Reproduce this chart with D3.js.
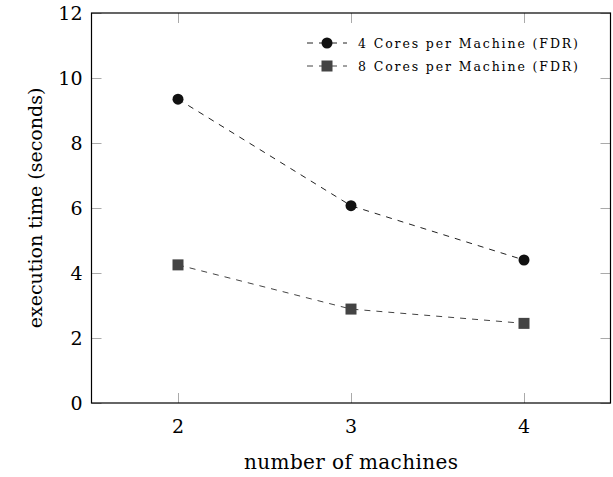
<!DOCTYPE html>
<html>
<head>
<meta charset="utf-8">
<script src="https://cdn.jsdelivr.net/npm/d3@7"></script>
<style>
  body { margin: 0; background: #fff; }
  text { font-family: "DejaVu Serif", "Liberation Serif", serif; }
</style>
</head>
<body>
<div id="chart"></div>
<script>
var machines = [2, 3, 4];
var cores4 = [9.35, 6.07, 4.4];
var cores8 = [4.25, 2.89, 2.45];
var seriesNames = ["4 Cores per Machine (FDR)", "8 Cores per Machine (FDR)"];
var xTicks = [2, 3, 4];
var yTicks = [0, 2, 4, 6, 8, 10, 12];

function init() {
    var w = 613;
    var h = 477;
    var left = 91.5, right = 610.5, top = 13, bottom = 403;

    var svg = d3.select("#chart")
        .append("svg")
        .attr("width", w)
        .attr("height", h);

    var scaleX = d3.scaleLinear().domain([1.5, 4.5]).range([left, right]);
    var scaleY = d3.scaleLinear().domain([0, 12]).range([bottom, top]);

    // inward ticks on all four sides
    var tickColor = "#aaa";
    var tl = 10;
    xTicks.forEach(function (t) {
        var x = Math.round(scaleX(t)) + 0.5;
        svg.append("line").attr("x1", x).attr("x2", x).attr("y1", bottom).attr("y2", bottom - tl).attr("stroke", tickColor);
        svg.append("line").attr("x1", x).attr("x2", x).attr("y1", top).attr("y2", top + tl).attr("stroke", tickColor);
        svg.append("text").attr("x", scaleX(t)).attr("y", bottom + 30)
            .attr("text-anchor", "middle").attr("font-size", 19).text(t);
    });
    yTicks.forEach(function (t) {
        var y = Math.round(scaleY(t)) + 0.5;
        svg.append("line").attr("x1", left).attr("x2", left + tl).attr("y1", y).attr("y2", y).attr("stroke", tickColor);
        svg.append("line").attr("x1", right).attr("x2", right - tl).attr("y1", y).attr("y2", y).attr("stroke", tickColor);
        svg.append("text").attr("x", left - 9).attr("y", scaleY(t) + 7)
            .attr("text-anchor", "end").attr("font-size", 19).text(t);
    });

    svg.append("rect")
        .attr("x", left).attr("y", top)
        .attr("width", right - left).attr("height", bottom - top)
        .attr("fill", "none").attr("stroke", "#000").attr("stroke-width", 1.2);

    var line = d3.line()
        .x(function (d) { return scaleX(d[0]); })
        .y(function (d) { return scaleY(d[1]); });

    var s1 = machines.map(function (m, i) { return [m, cores4[i]]; });
    var s2 = machines.map(function (m, i) { return [m, cores8[i]]; });

    svg.append("path").datum(s1).attr("d", line)
        .attr("fill", "none").attr("stroke", "#222").attr("stroke-width", 1)
        .attr("stroke-dasharray", "6,6");
    svg.append("path").datum(s2).attr("d", line)
        .attr("fill", "none").attr("stroke", "#444").attr("stroke-width", 1)
        .attr("stroke-dasharray", "6,6");

    svg.selectAll("circle.p1")
        .data(s1)
        .enter()
        .append("circle")
        .attr("cx", function (d) { return scaleX(d[0]); })
        .attr("cy", function (d) { return scaleY(d[1]); })
        .attr("r", 5.5)
        .attr("fill", "#111");

    svg.selectAll("rect.p2")
        .data(s2)
        .enter()
        .append("rect")
        .attr("x", function (d) { return scaleX(d[0]) - 5.5; })
        .attr("y", function (d) { return scaleY(d[1]) - 5.5; })
        .attr("width", 11).attr("height", 11)
        .attr("fill", "#444");

    // legend
    var lx = 307, ly = [43, 66];
    seriesNames.forEach(function (name, i) {
        var y = ly[i];
        svg.append("line").attr("x1", lx).attr("x2", lx + 40).attr("y1", y).attr("y2", y)
            .attr("stroke", i === 0 ? "#222" : "#444").attr("stroke-dasharray", "6,6");
        if (i === 0) {
            svg.append("circle").attr("cx", lx + 20).attr("cy", y).attr("r", 5.5).attr("fill", "#111");
        } else {
            svg.append("rect").attr("x", lx + 20 - 5.5).attr("y", y - 5.5).attr("width", 11).attr("height", 11).attr("fill", "#444");
        }
        svg.append("text").attr("x", lx + 51).attr("y", y + 4.5)
            .attr("font-size", 12.5).attr("textLength", 220).attr("lengthAdjust", "spacing")
            .text(name);
    });

    svg.append("text")
        .attr("x", (left + right) / 2).attr("y", 469)
        .attr("text-anchor", "middle").attr("font-size", 20)
        .attr("textLength", 214).attr("lengthAdjust", "spacing")
        .text("number of machines");

    svg.append("text")
        .attr("transform", "translate(42," + ((top + bottom) / 2) + ") rotate(-90)")
        .attr("text-anchor", "middle").attr("font-size", 19)
        .text("execution time (seconds)");
}

window.onload = init;
</script>
</body>
</html>
